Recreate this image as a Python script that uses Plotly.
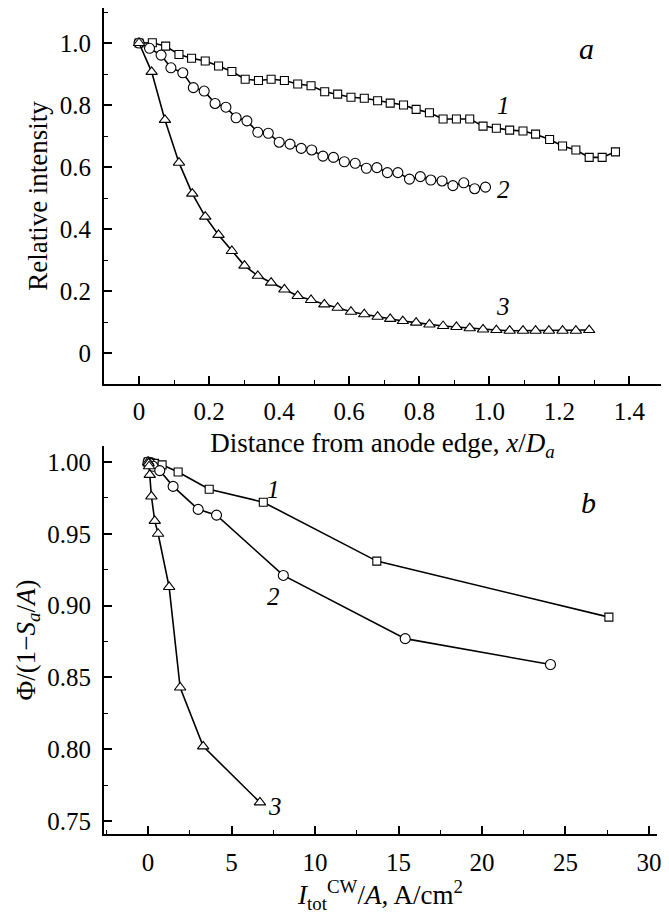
import plotly.graph_objects as go

# ---- Panel a: relative intensity vs distance ----
a1_x = [0.000, 0.038, 0.076, 0.114, 0.150, 0.189, 0.227, 0.265, 0.303, 0.341, 0.377, 0.415, 0.453,
        0.491, 0.530, 0.567, 0.605, 0.643, 0.681, 0.717, 0.755, 0.791, 0.829, 0.868, 0.906, 0.944,
        0.982, 1.020, 1.058, 1.096, 1.132, 1.172, 1.209, 1.247, 1.285, 1.322, 1.360]
a1_y = [1.000, 1.001, 0.990, 0.963, 0.951, 0.942, 0.926, 0.908, 0.883, 0.879, 0.883, 0.879, 0.868,
        0.862, 0.843, 0.835, 0.825, 0.822, 0.814, 0.806, 0.800, 0.786, 0.775, 0.755, 0.755, 0.755,
        0.732, 0.725, 0.719, 0.716, 0.706, 0.689, 0.668, 0.655, 0.631, 0.631, 0.649]

a2_x = [0.000, 0.030, 0.063, 0.091, 0.125, 0.155, 0.186, 0.217, 0.248, 0.277, 0.308, 0.339, 0.369,
        0.400, 0.431, 0.463, 0.493, 0.525, 0.555, 0.586, 0.617, 0.649, 0.679, 0.709, 0.739, 0.772,
        0.803, 0.833, 0.865, 0.896, 0.927, 0.958, 0.989]
a2_y = [1.000, 0.983, 0.961, 0.920, 0.904, 0.856, 0.845, 0.805, 0.793, 0.759, 0.749, 0.712, 0.709,
        0.680, 0.674, 0.660, 0.655, 0.635, 0.631, 0.617, 0.612, 0.596, 0.598, 0.582, 0.582, 0.561,
        0.569, 0.558, 0.555, 0.540, 0.549, 0.530, 0.535]

a3_x = [0.000, 0.036, 0.074, 0.114, 0.152, 0.189, 0.227, 0.265, 0.301, 0.339, 0.377, 0.415, 0.453,
        0.491, 0.529, 0.567, 0.605, 0.643, 0.681, 0.717, 0.753, 0.791, 0.829, 0.868, 0.906, 0.944,
        0.982, 1.020, 1.058, 1.096, 1.132, 1.170, 1.209, 1.247, 1.285]
a3_y = [1.000, 0.907, 0.752, 0.614, 0.514, 0.440, 0.381, 0.329, 0.282, 0.249, 0.227, 0.205, 0.184,
        0.171, 0.157, 0.146, 0.133, 0.125, 0.117, 0.110, 0.103, 0.098, 0.092, 0.087, 0.084, 0.080,
        0.076, 0.074, 0.072, 0.072, 0.072, 0.072, 0.072, 0.072, 0.074]

# ---- Panel b: Phi/(1-Sa/A) vs current density ----
b1_x = [0.0, 0.05, 0.15, 0.39, 0.84, 1.8, 3.66, 6.9, 13.7, 27.6]
b1_y = [1.000, 1.000, 0.9995, 0.999, 0.998, 0.993, 0.981, 0.972, 0.931, 0.892]
b2_x = [0.0, 0.1, 0.3, 0.7, 1.5, 3.0, 4.1, 8.1, 15.4, 24.1]
b2_y = [1.000, 0.999, 0.997, 0.994, 0.983, 0.967, 0.963, 0.921, 0.877, 0.859]
b3_x = [0.0, 0.03, 0.06, 0.1, 0.2, 0.4, 0.6, 1.26, 1.92, 3.3, 6.7]
b3_y = [1.000, 0.999, 0.997, 0.991, 0.976, 0.959, 0.950, 0.913, 0.843, 0.802, 0.763]

a_xticks = [0, 0.2, 0.4, 0.6, 0.8, 1.0, 1.2, 1.4]
a_xtext = ["0", "0.2", "0.4", "0.6", "0.8", "1.0", "1.2", "1.4"]
a_yticks = [0, 0.2, 0.4, 0.6, 0.8, 1.0]
a_ytext = ["0", "0.2", "0.4", "0.6", "0.8", "1.0"]
b_xticks = [0, 5, 10, 15, 20, 25, 30]
b_xtext = ["0", "5", "10", "15", "20", "25", "30"]
b_yticks = [0.75, 0.80, 0.85, 0.90, 0.95, 1.00]
b_ytext = ["0.75", "0.80", "0.85", "0.90", "0.95", "1.00"]

FONT = "Liberation Serif, Times New Roman, DejaVu Serif, serif"
BLK = "black"

fig = go.Figure()

def add(x, y, sym, size, xa, ya):
    fig.add_trace(go.Scatter(
        x=x, y=y, mode="lines+markers", xaxis=xa, yaxis=ya,
        line=dict(color=BLK, width=1.6),
        marker=dict(symbol=sym, size=size, color="white", line=dict(color=BLK, width=1.1)),
        showlegend=False, hoverinfo="skip"))

add(a1_x, a1_y, "square", 8, "x", "y")
add(a2_x, a2_y, "circle", 10, "x", "y")
add(a3_x, a3_y, "triangle-up", 10, "x", "y")
add(b1_x, b1_y, "square", 8, "x2", "y2")
add(b2_x, b2_y, "circle", 10, "x2", "y2")
add(b3_x, b3_y, "triangle-up", 10, "x2", "y2")

axis_common = dict(
    showline=True, linecolor=BLK, linewidth=2, ticks="inside", ticklen=8, tickwidth=1.5,
    tickcolor=BLK, showgrid=False, zeroline=False, mirror=False, automargin=False,
    tickfont=dict(family=FONT, size=25, color=BLK),
    title_font=dict(family=FONT, size=27, color=BLK),
)
minor_style = dict(ticks="inside", ticklen=4, tickcolor=BLK, tickwidth=1.2)

# The page body adds an 8 px offset, so the figure is sized to fit the window.
fig.update_layout(
    width=661, height=910,
    margin=dict(l=96, r=8, t=0, b=84, autoexpand=False),
    paper_bgcolor="white", plot_bgcolor="white",
    font=dict(family=FONT, color=BLK),
    xaxis=dict(axis_common, domain=[0, 1], anchor="y", range=[-0.1, 1.49],
               tickvals=a_xticks, ticktext=a_xtext,
               minor=dict(minor_style, dtick=0.1, tick0=0),
               title=dict(text="Distance from anode edge, <i>x</i>/<i>D</i><sub><i>a</i></sub>", standoff=9),
               ticklabelstandoff=4),
    yaxis=dict(axis_common, domain=[0.5448, 1], anchor="x", range=[-0.1, 1.113],
               tickvals=a_yticks, ticktext=a_ytext,
               minor=dict(minor_style, dtick=0.1, tick0=0),
               title=dict(text="Relative intensity", standoff=4),
               ticklabelstandoff=6),
    xaxis2=dict(axis_common, domain=[0, 0.9928], anchor="y2", range=[-2.64, 30.48],
                tickvals=b_xticks, ticktext=b_xtext,
                minor=dict(minor_style, dtick=2.5, tick0=0),
                title=dict(text="<i>I</i><sub>tot</sub><sup>CW</sup>/<i>A</i>, A/cm<sup>2</sup>", standoff=10),
                ticklabelstandoff=5),
    yaxis2=dict(axis_common, domain=[0, 0.4697], anchor="x2", range=[0.741, 1.0111],
                tickvals=b_yticks, ticktext=b_ytext,
                minor=dict(minor_style, dtick=0.025, tick0=0.75),
                title=dict(text="Φ/(1−<i>S</i><sub><i>a</i></sub>/<i>A</i>)", standoff=4),
                ticklabelstandoff=6),
)

def label(text, x, y, xr, yr, size=25):
    fig.add_annotation(text=text, x=x, y=y, xref=xr, yref=yr, showarrow=False,
                       font=dict(family=FONT, size=size, color=BLK, style="italic"))

label("a", 1.277, 0.982, "x", "y", 30)
label("1", 1.04, 0.80, "x", "y")
label("2", 1.04, 0.527, "x", "y")
label("3", 1.04, 0.15, "x", "y")
label("b", 26.4, 0.972, "x2", "y2", 30)
label("1", 7.5, 0.9805, "x2", "y2")
label("2", 7.5, 0.906, "x2", "y2")
label("3", 7.6, 0.760, "x2", "y2")

fig.write_html("out.html")
